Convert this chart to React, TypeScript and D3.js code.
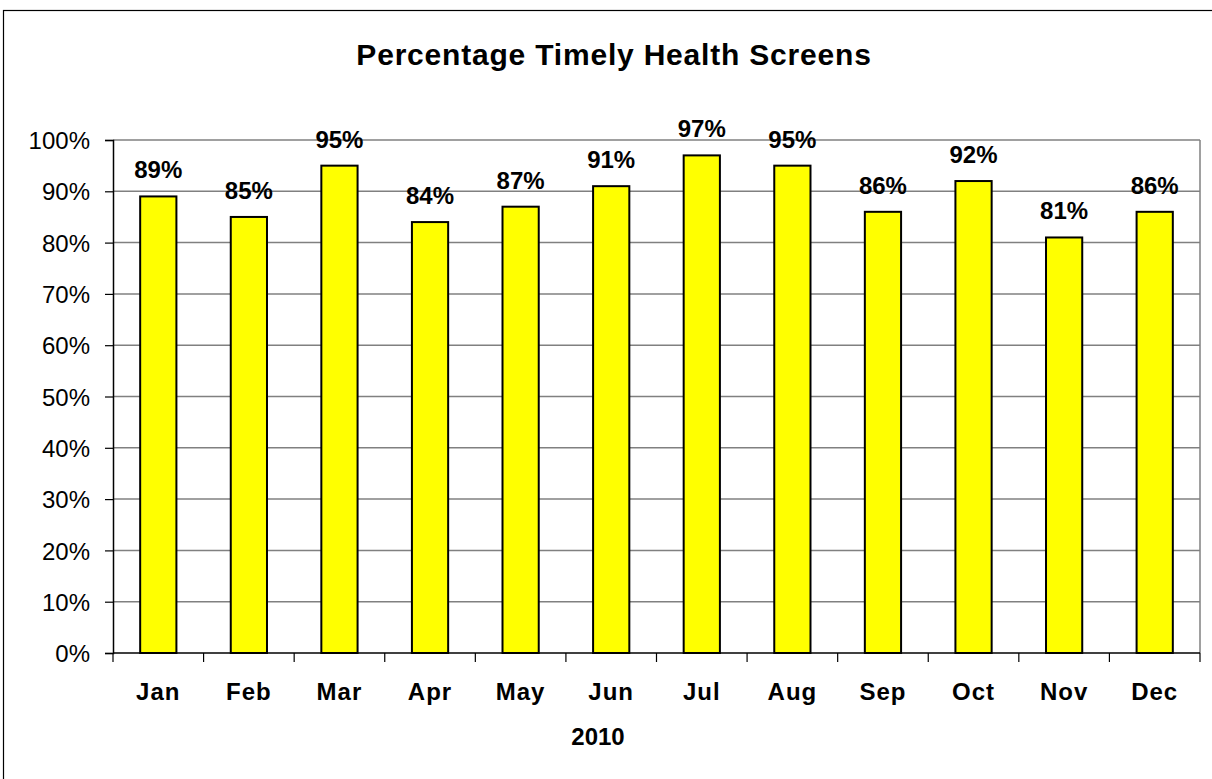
import React, { useEffect, useRef } from 'react';
import * as d3 from 'd3';

const months = ['Jan', 'Feb', 'Mar', 'Apr', 'May', 'Jun', 'Jul', 'Aug', 'Sep', 'Oct', 'Nov', 'Dec'];
const values = [89, 85, 95, 84, 87, 91, 97, 95, 86, 92, 81, 86];
const yTicks = [0, 10, 20, 30, 40, 50, 60, 70, 80, 90, 100];
const chartTitle = 'Percentage Timely Health Screens';
const axisTitle = '2010';

const App = () => {
    const svgRef = useRef(null);

    useEffect(() => {
        const width = 1212;
        const height = 779;
        const font = 'Arial, "Liberation Sans", sans-serif';

        // plot area bounds
        const left = 113, right = 1200, top = 140, bottom = 653;

        const svg = d3.select(svgRef.current);
        svg.selectAll('*').remove();
        svg.attr('width', width).attr('height', height);

        // outer chart border (runs off the right / bottom edge)
        svg.append('rect')
            .attr('x', 3.5).attr('y', 10.5)
            .attr('width', 1230).attr('height', 800)
            .attr('fill', '#fff')
            .attr('stroke', '#000')
            .attr('stroke-width', 1.2);

        const x = d3.scaleBand().domain(months).range([left, right]).paddingInner(0).paddingOuter(0);
        const y = d3.scaleLinear().domain([0, 100]).range([bottom, top]);
        const barW = x.bandwidth() * 0.4;

        // gridlines
        svg.append('g')
            .selectAll('line')
            .data(yTicks.filter(t => t > 0))
            .enter().append('line')
            .attr('x1', left).attr('x2', right)
            .attr('y1', d => y(d)).attr('y2', d => y(d))
            .attr('stroke', '#808080')
            .attr('stroke-width', 1.5);

        // right border of plot area
        svg.append('line')
            .attr('x1', right).attr('x2', right)
            .attr('y1', top).attr('y2', bottom)
            .attr('stroke', '#808080')
            .attr('stroke-width', 1.5);

        // bars
        svg.append('g')
            .selectAll('rect')
            .data(values)
            .enter().append('rect')
            .attr('x', (d, i) => x(months[i]) + x.bandwidth() / 2 - barW / 2)
            .attr('y', d => y(d))
            .attr('width', barW)
            .attr('height', d => bottom - y(d))
            .attr('fill', '#ffff00')
            .attr('stroke', '#000')
            .attr('stroke-width', 2);

        // value labels
        svg.append('g')
            .selectAll('text')
            .data(values)
            .enter().append('text')
            .attr('x', (d, i) => x(months[i]) + x.bandwidth() / 2)
            .attr('y', d => y(d) - 18)
            .attr('text-anchor', 'middle')
            .style('font-family', font)
            .style('font-weight', 'bold')
            .style('font-size', '24px')
            .text(d => `${d}%`);

        // y axis
        const yAxis = d3.axisLeft(y)
            .tickValues(yTicks)
            .tickSize(8)
            .tickPadding(15)
            .tickFormat(d => `${d}%`);
        const gy = svg.append('g')
            .attr('transform', `translate(${left},0)`)
            .call(yAxis);
        gy.select('.domain').attr('stroke', '#000').attr('stroke-width', 1.5);
        gy.selectAll('.tick line').attr('stroke', '#000').attr('stroke-width', 1.2);
        gy.selectAll('.tick text')
            .attr('dy', '0.36em')
            .style('font-family', font)
            .style('font-size', '24px')
            .attr('fill', '#000');

        // x axis: ticks at the category boundaries
        const boundaries = months.map(m => x(m)).concat([right]);
        svg.append('line')
            .attr('x1', left).attr('x2', right)
            .attr('y1', bottom).attr('y2', bottom)
            .attr('stroke', '#000')
            .attr('stroke-width', 1.5);
        svg.append('g')
            .selectAll('line')
            .data(boundaries)
            .enter().append('line')
            .attr('x1', d => d).attr('x2', d => d)
            .attr('y1', bottom).attr('y2', bottom + 9)
            .attr('stroke', '#000')
            .attr('stroke-width', 1.2);

        svg.append('g')
            .selectAll('text')
            .data(months)
            .enter().append('text')
            .attr('x', d => x(d) + x.bandwidth() / 2)
            .attr('y', 700)
            .attr('text-anchor', 'middle')
            .style('font-family', font)
            .style('font-weight', 'bold')
            .style('font-size', '24px')
            .style('letter-spacing', '1px')
            .text(d => d);

        // axis title
        svg.append('text')
            .attr('x', 598)
            .attr('y', 745)
            .attr('text-anchor', 'middle')
            .style('font-family', font)
            .style('font-weight', 'bold')
            .style('font-size', '24px')
            .text(axisTitle);

        // chart title
        svg.append('text')
            .attr('x', 614)
            .attr('y', 65)
            .attr('text-anchor', 'middle')
            .style('font-family', font)
            .style('font-weight', 'bold')
            .style('font-size', '30px')
            .style('letter-spacing', '0.8px')
            .text(chartTitle);
    }, []);

    return (
        <svg ref={svgRef} style={{ position: 'absolute', left: 0, top: 0, display: 'block' }}></svg>
    );
};

export default App;
